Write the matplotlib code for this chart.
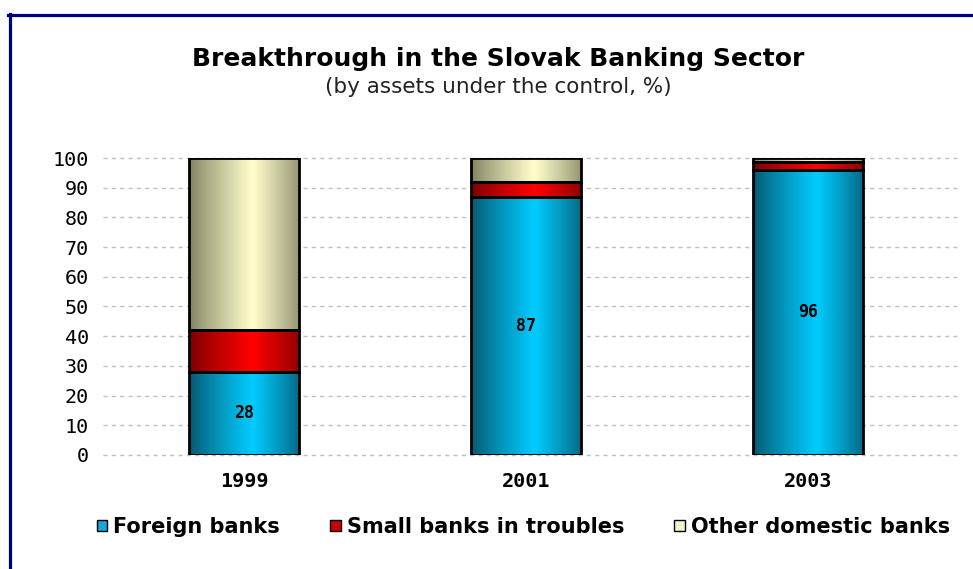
import numpy as np
import matplotlib.pyplot as plt
from matplotlib.colors import LinearSegmentedColormap
from matplotlib.patches import Patch
from matplotlib.lines import Line2D

# data (% of banking sector assets)
years = ['1999', '2001', '2003']
foreign = [28, 87, 96]
small_troubled = [14, 5, 2.5]
other_domestic = [58, 8, 1.5]
series_names = ['Foreign banks', 'Small banks in troubles', 'Other domestic banks']

# edge colour -> centre colour of each cylinder-like gradient
shades = [('#084558', '#00ccff'), ('#660000', '#ff0000'), ('#6e6e52', '#ffffcc')]
legend_colors = ['#1aa6d6', '#cc0000', '#f4f4cc']

fig = plt.figure(figsize=(9.73, 5.69), dpi=100)
ax = fig.add_axes([0.106, 0.2004, 0.878, 0.5219])

# dark blue frame on the left and top of the picture
fig.add_artist(Line2D([9.5 / 973, 9.5 / 973], [0, 1 - 14 / 569], color='#000080', lw=2.3,
                      transform=fig.transFigure))
fig.add_artist(Line2D([8 / 973, 1], [1 - 15 / 569, 1 - 15 / 569], color='#000080', lw=2.3,
                      transform=fig.transFigure))

x = np.arange(len(years))
width = 0.39
t = np.linspace(0, 1, 256)
peak = 0.58
profile = np.where(t < peak, 0.08 + 0.92 * t / peak, 0.2 + 0.8 * (1 - t) / (1 - peak))
profile = profile.reshape(1, -1) ** 0.8

bottoms = np.zeros(len(years))
for vals, (c_edge, c_mid) in zip([foreign, small_troubled, other_domestic], shades):
    bars = ax.bar(x, vals, width, bottom=bottoms, facecolor='none', edgecolor='black',
                  linewidth=2, zorder=3)
    cmap = LinearSegmentedColormap.from_list('g', [c_edge, c_mid])
    for patch in bars.patches:
        bx, by = patch.get_x(), patch.get_y()
        bw, bh = patch.get_width(), patch.get_height()
        im = ax.imshow(profile, extent=(bx, bx + bw, by, by + bh), aspect='auto',
                       cmap=cmap, vmin=0, vmax=1, zorder=2)
        im.set_clip_path(patch)
    bottoms += np.array(vals)

for xi, v in zip(x, foreign):
    ax.text(xi, v / 2, str(v), ha='center', va='center', fontsize=12,
            fontweight='bold', color='black', family='DejaVu Sans Mono', zorder=4)

ax.set_xlim(-0.5, 2.53)
ax.set_ylim(0, 100)
ax.set_yticks(range(0, 101, 10))
ax.set_xticks(x)
ax.set_xticklabels(years, fontsize=14.5, fontweight='bold', family='DejaVu Sans Mono')
for lab in ax.get_yticklabels():
    lab.set_family('DejaVu Sans Mono')
    lab.set_fontsize(14.5)
ax.tick_params(axis='both', length=0)
ax.tick_params(axis='y', pad=10)
ax.tick_params(axis='x', pad=12)
ax.yaxis.grid(True, color='#c0c0c0', linestyle=(0, (3, 3)), linewidth=1, clip_on=False)
ax.set_axisbelow(True)
for s in ax.spines.values():
    s.set_visible(False)

fig.text(0.512, 0.897, 'Breakthrough in the Slovak Banking Sector', ha='center', va='center',
         fontsize=18, fontweight='bold')
fig.text(0.512, 0.847, '(by assets under the control, %)', ha='center', va='center',
         fontsize=15.5, color='#222222')

handles = [Patch(facecolor=c, edgecolor='black', linewidth=1) for c in legend_colors]
fig.legend(handles, series_names, loc='center', bbox_to_anchor=(0.538, 0.074), ncol=3,
           frameon=False, prop={'weight': 'bold', 'size': 15}, handlelength=0.5,
           handleheight=0.5, handletextpad=0.3, columnspacing=2.4)

fig.savefig('out.png', dpi=100)
